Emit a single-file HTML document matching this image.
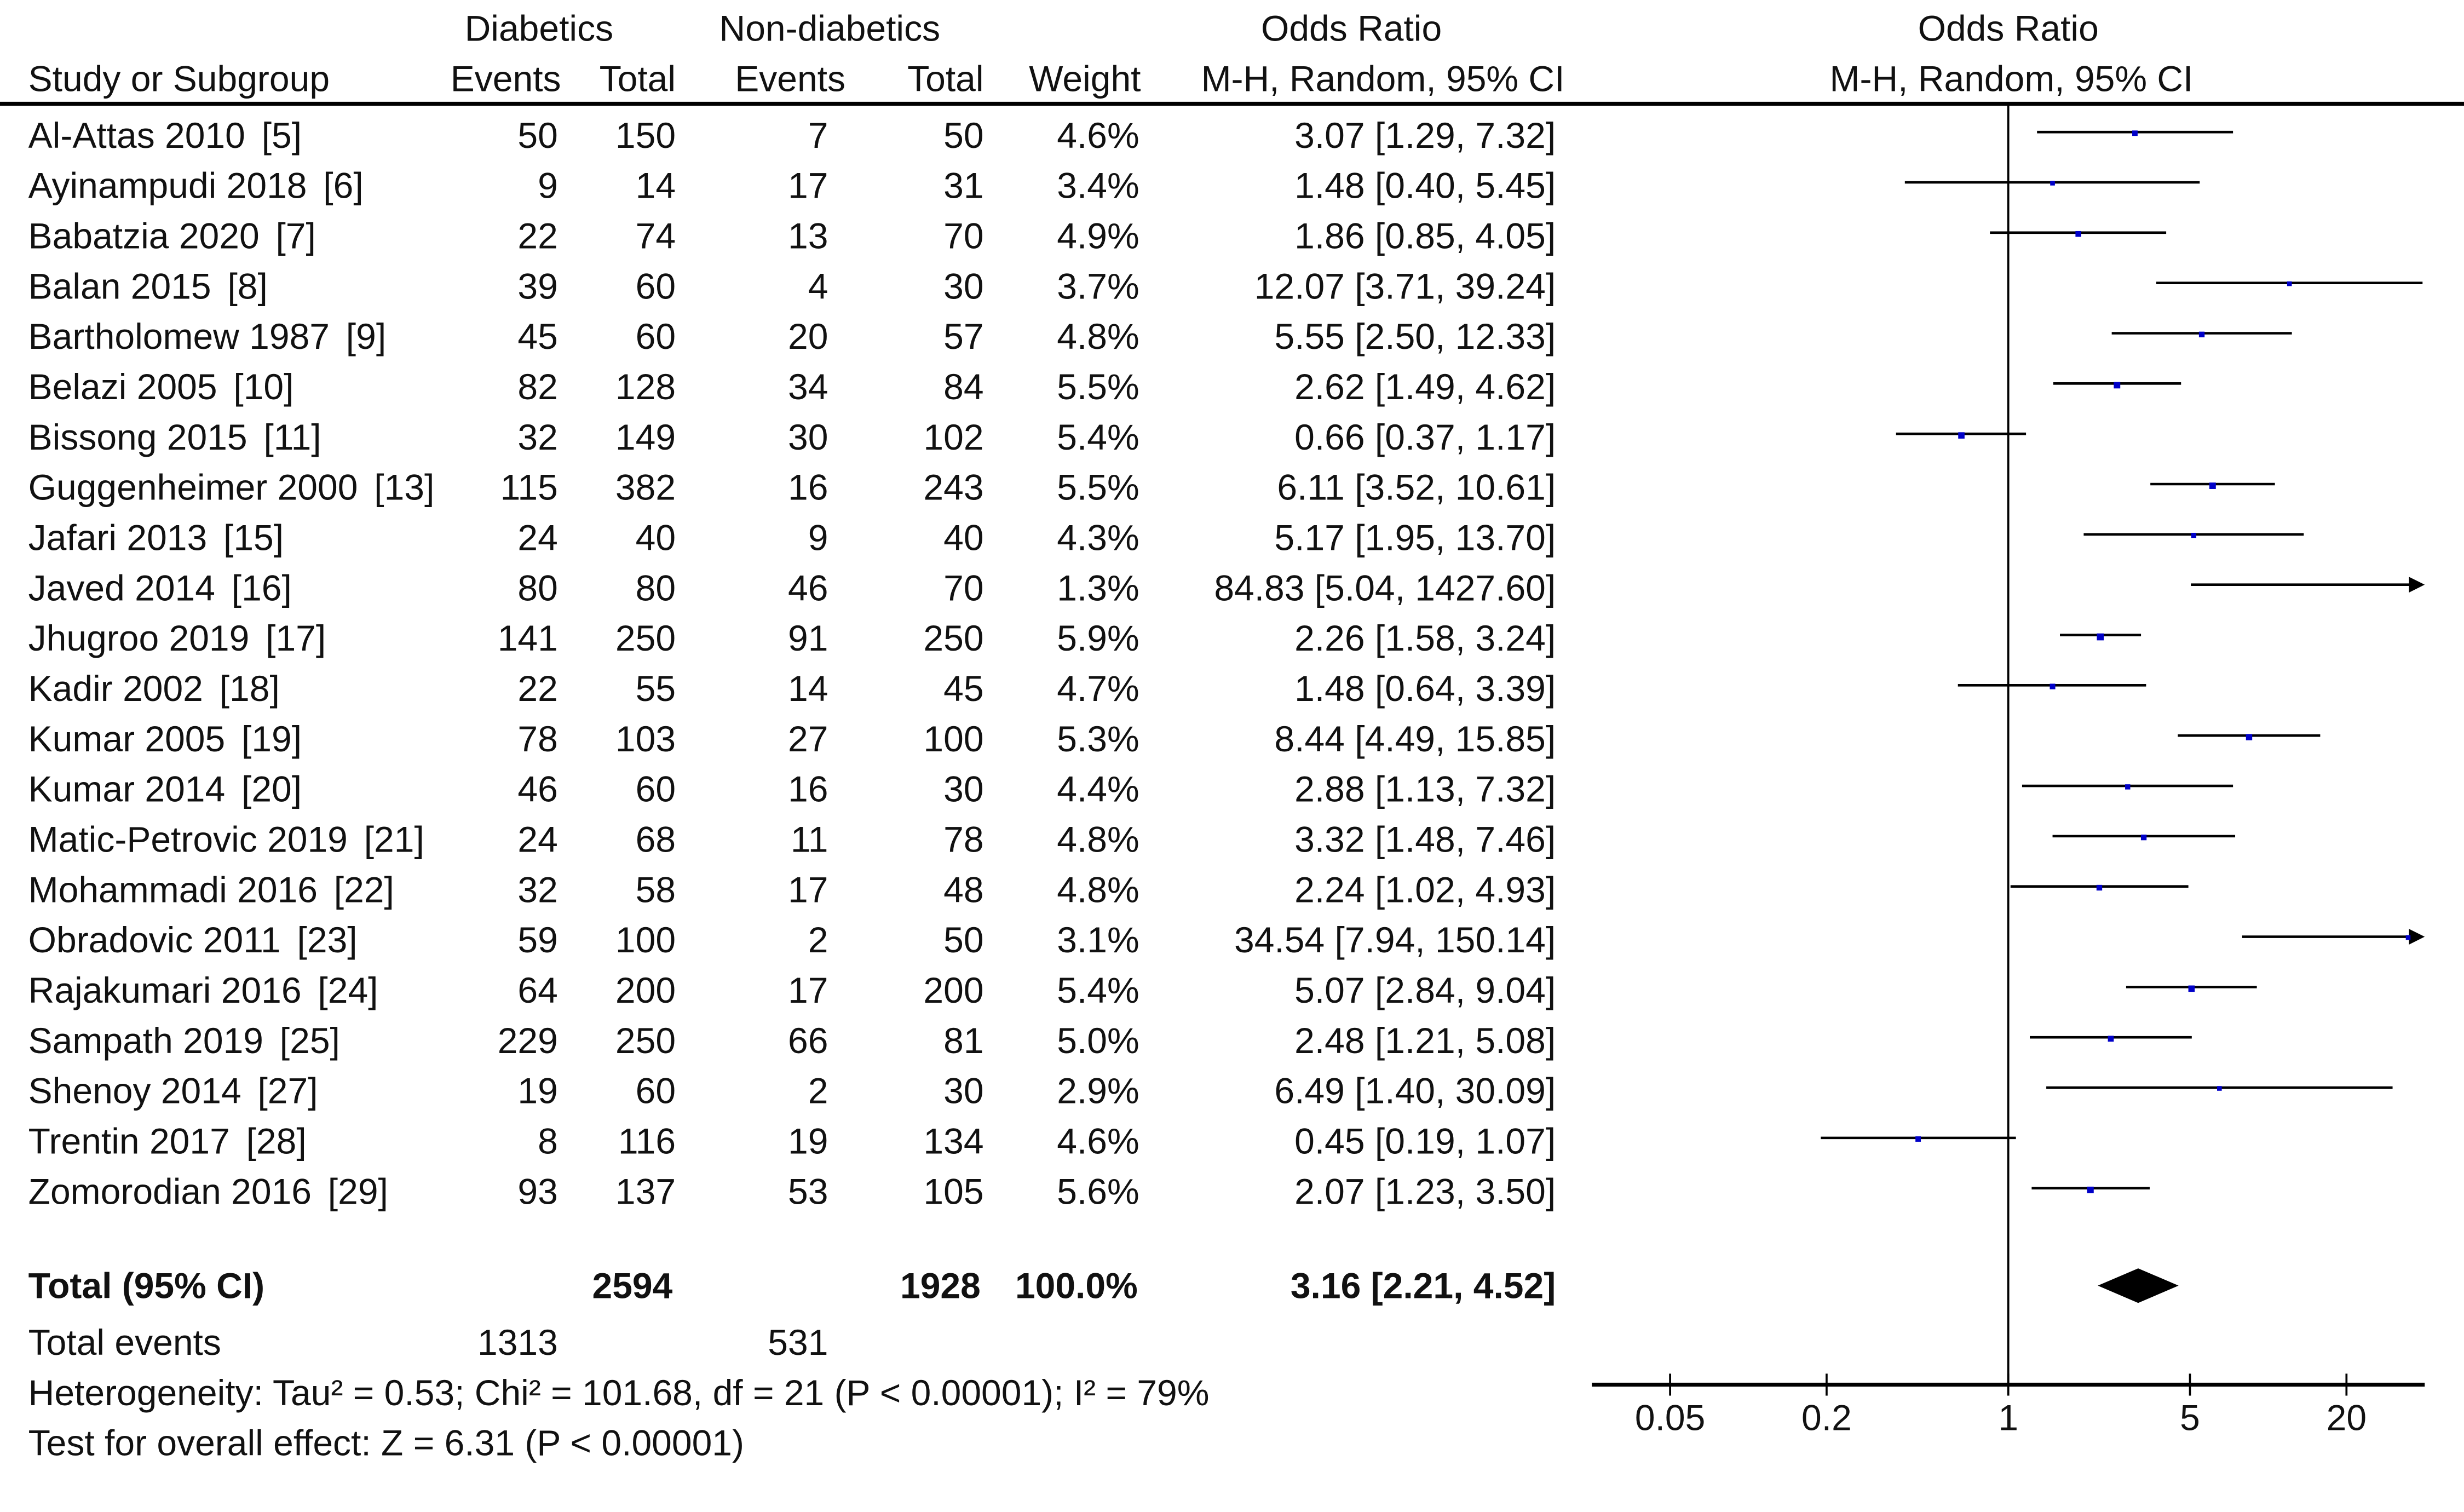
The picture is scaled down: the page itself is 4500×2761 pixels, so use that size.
<!DOCTYPE html>
<html><head><meta charset="utf-8"><style>
html,body{margin:0;padding:0;background:#fff;}
svg{display:block;}
text{font-family:"Liberation Sans",sans-serif;font-size:23px;fill:#111;}
.b{font-weight:bold;}
</style></head><body>
<svg id="chart" width="4500" height="2761" viewBox="0 0 1568 962" xmlns="http://www.w3.org/2000/svg">
<rect width="1568" height="962" fill="#fff"/>
<g>
<text x="343" y="26" text-anchor="middle">Diabetics</text>
<text x="528" y="26" text-anchor="middle">Non-diabetics</text>
<text x="860" y="26" text-anchor="middle">Odds Ratio</text>
<text x="1278" y="26" text-anchor="middle">Odds Ratio</text>
<text x="18" y="58">Study or Subgroup</text>
<text x="357" y="58" text-anchor="end">Events</text>
<text x="430" y="58" text-anchor="end">Total</text>
<text x="538" y="58" text-anchor="end">Events</text>
<text x="626" y="58" text-anchor="end">Total</text>
<text x="726" y="58" text-anchor="end">Weight</text>
<text x="880" y="58" text-anchor="middle">M-H, Random, 95% CI</text>
<text x="1280" y="58" text-anchor="middle">M-H, Random, 95% CI</text>
<line x1="0" y1="66" x2="1568" y2="66" stroke="#000" stroke-width="2.5"/>
</g>
<g id="rows"></g>
<g id="plot"></g>
<g>
<text x="18" y="826" class="b">Total (95% CI)</text>
<text x="428" y="826" text-anchor="end" class="b">2594</text>
<text x="624" y="826" text-anchor="end" class="b">1928</text>
<text x="724" y="826" text-anchor="end" class="b">100.0%</text>
<text x="990" y="826" text-anchor="end" class="b">3.16 [2.21, 4.52]</text>
<text x="18" y="862">Total events</text>
<text x="355" y="862" text-anchor="end">1313</text>
<text x="527" y="862" text-anchor="end">531</text>
<text x="18" y="894">Heterogeneity: Tau² = 0.53; Chi² = 101.68, df = 21 (P &lt; 0.00001); I² = 79%</text>
<text x="18" y="926">Test for overall effect: Z = 6.31 (P &lt; 0.00001)</text>
</g>
<script>
const studies=["Al-Attas 2010","Ayinampudi 2018","Babatzia 2020","Balan 2015","Bartholomew 1987","Belazi 2005","Bissong 2015","Guggenheimer 2000","Jafari 2013","Javed 2014","Jhugroo 2019","Kadir 2002","Kumar 2005","Kumar 2014","Matic-Petrovic 2019","Mohammadi 2016","Obradovic 2011","Rajakumari 2016","Sampath 2019","Shenoy 2014","Trentin 2017","Zomorodian 2016"];
const refs=["[5]","[6]","[7]","[8]","[9]","[10]","[11]","[13]","[15]","[16]","[17]","[18]","[19]","[20]","[21]","[22]","[23]","[24]","[25]","[27]","[28]","[29]"];
const dEvents=[50,9,22,39,45,82,32,115,24,80,141,22,78,46,24,32,59,64,229,19,8,93];
const dTotal=[150,14,74,60,60,128,149,382,40,80,250,55,103,60,68,58,100,200,250,60,116,137];
const nEvents=[7,17,13,4,20,34,30,16,9,46,91,14,27,16,11,17,2,17,66,2,19,53];
const nTotal=[50,31,70,30,57,84,102,243,40,70,250,45,100,30,78,48,50,200,81,30,134,105];
const weights=[4.6,3.4,4.9,3.7,4.8,5.5,5.4,5.5,4.3,1.3,5.9,4.7,5.3,4.4,4.8,4.8,3.1,5.4,5.0,2.9,4.6,5.6];
const orVals=[3.07,1.48,1.86,12.07,5.55,2.62,0.66,6.11,5.17,84.83,2.26,1.48,8.44,2.88,3.32,2.24,34.54,5.07,2.48,6.49,0.45,2.07];
const ciLow=[1.29,0.40,0.85,3.71,2.50,1.49,0.37,3.52,1.95,5.04,1.58,0.64,4.49,1.13,1.48,1.02,7.94,2.84,1.21,1.40,0.19,1.23];
const ciHigh=[7.32,5.45,4.05,39.24,12.33,4.62,1.17,10.61,13.70,1427.60,3.24,3.39,15.85,7.32,7.46,4.93,150.14,9.04,5.08,30.09,1.07,3.50];
const pooled=[3.16,2.21,4.52];
const tickVals=[0.05,0.2,1,5,20];
const tickLabels=["0.05","0.2","1","5","20"];
const axisMin=0.025, axisMax=40;
const NS="http://www.w3.org/2000/svg";
const X0=1013,X1=1543;
function xs(v){return X0+(Math.log10(v)-Math.log10(axisMin))/(Math.log10(axisMax)-Math.log10(axisMin))*(X1-X0);}
function ys(i){return 86+32*i;}
function mk(tag,attrs,parent,txt){const e=document.createElementNS(NS,tag);for(const k in attrs)e.setAttribute(k,attrs[k]);if(txt!==undefined)e.textContent=txt;parent.appendChild(e);return e;}
const rows=document.getElementById('rows'),plot=document.getElementById('plot');
const f2=v=>v.toFixed(2);
studies.forEach((s,i)=>{
  const y=ys(i)+8;
  const g=mk('g',{},rows);
  
  
  const t=mk('text',{x:18,y:y},g);
  
  
  t.appendChild(document.createTextNode(s+" "));
  const r=mk('tspan',{dx:4},t,refs[i]);
  
  
  const cells=[[355,dEvents[i]],[430,dTotal[i]],[527,nEvents[i]],[626,nTotal[i]],[725,weights[i].toFixed(1)+"%"],[990,f2(orVals[i])+" ["+f2(ciLow[i])+", "+f2(ciHigh[i])+"]"]];
  const names=['diabetic-events','diabetic-total','non-diabetic-events','non-diabetic-total','weight','odds-ratio-ci'];
  cells.forEach((c,j)=>{const e=mk('text',{x:c[0],y:y,'text-anchor':'end'},g,String(c[1]));
    
    });
  // CI line
  const yy=ys(i)-2;
  const lo=Math.max(ciLow[i],axisMin),hi=Math.min(ciHigh[i],axisMax);
  const l=mk('line',{x1:xs(lo),y1:yy,x2:xs(hi)-(ciHigh[i]>axisMax?8:0),y2:yy,stroke:'#000','stroke-width':1.6},plot);
  
  
  if(ciHigh[i]>axisMax){const a=mk('path',{d:`M${X1} ${yy} L${X1-10} ${yy-5} L${X1-10} ${yy+5} Z`,fill:'#000'},plot);
    
    }
  const sz=Math.max(3,weights[i]*0.75);
  const m=mk('rect',{x:xs(orVals[i])-sz/2,y:yy-1,width:sz,height:sz,fill:'#0000c8'},plot);
  
  
});
const ref=mk('line',{x1:xs(1),y1:66,x2:xs(1),y2:881,stroke:'#000','stroke-width':1.3},plot);


const dy=818;
const dm=mk('path',{d:`M${xs(pooled[1])} ${dy} L${xs(pooled[0])} ${dy-11} L${xs(pooled[2])} ${dy} L${xs(pooled[0])} ${dy+11} Z`,fill:'#000'},plot);


const ax=mk('line',{x1:X0,y1:881,x2:X1,y2:881,stroke:'#000','stroke-width':2.5},plot);


tickVals.forEach((v,k)=>{
  const tk=mk('line',{x1:xs(v),y1:874,x2:xs(v),y2:888,stroke:'#000','stroke-width':1.3},plot);
  
  
  const tl=mk('text',{x:xs(v),y:910,'text-anchor':'middle'},plot,tickLabels[k]);
  
  
});
</script>
</svg>
</body></html>
